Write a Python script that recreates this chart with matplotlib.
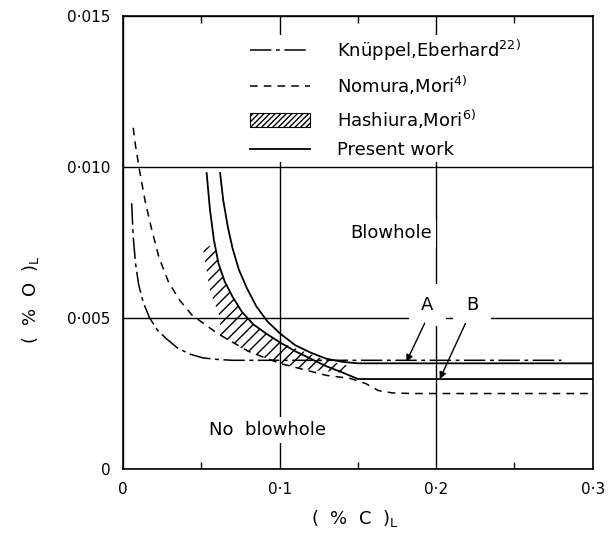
import matplotlib
matplotlib.use("Agg")
import matplotlib.pyplot as plt
from matplotlib.lines import Line2D
from matplotlib.patches import Patch
from matplotlib.ticker import FixedLocator, FixedFormatter

# ---------------- data ----------------
knuppel_x = [0.0055, 0.0065, 0.008, 0.010, 0.013, 0.017, 0.022, 0.028, 0.035, 0.043, 0.051, 0.060, 0.070, 0.100, 0.200, 0.280]
knuppel_y = [0.0088, 0.0077, 0.0068, 0.0061, 0.0055, 0.0050, 0.0046, 0.0043, 0.0040, 0.0038, 0.00368, 0.00363, 0.0036, 0.0036, 0.0036, 0.0036]

nomura_x = [0.0065, 0.008, 0.0105, 0.014, 0.018, 0.023, 0.029, 0.036, 0.044, 0.052, 0.060, 0.070, 0.080, 0.090, 0.100, 0.115, 0.130, 0.145, 0.155, 0.163, 0.172, 0.185, 0.300]
nomura_y = [0.0113, 0.0107, 0.0099, 0.0089, 0.0080, 0.0070, 0.0062, 0.0056, 0.0051, 0.0048, 0.0045, 0.0042, 0.0039, 0.0037, 0.0035, 0.0033, 0.0031, 0.0030, 0.00283, 0.0026, 0.00252, 0.0025, 0.0025]

hashiura_x = [0.0513, 0.0555, 0.0595, 0.061, 0.065, 0.070, 0.076, 0.083, 0.091, 0.100, 0.110, 0.120, 0.130, 0.1436,
              0.1436, 0.119, 0.100, 0.079, 0.062, 0.062, 0.0555]
hashiura_y = [0.00725, 0.0074, 0.0072, 0.0068, 0.0062, 0.0057, 0.0052, 0.0048, 0.0045, 0.0042, 0.0040, 0.0038, 0.0036, 0.00342,
              0.00318, 0.00328, 0.0035, 0.0039, 0.0044, 0.0050, 0.0059]

present_a_x = [0.062, 0.064, 0.067, 0.070, 0.074, 0.079, 0.085, 0.092, 0.100, 0.110, 0.120, 0.130, 0.140, 0.150, 0.300]
present_a_y = [0.0098, 0.0089, 0.0080, 0.0073, 0.0066, 0.0060, 0.0054, 0.0049, 0.0045, 0.0041, 0.00385, 0.00365, 0.00355, 0.0035, 0.0035]

present_b_x = [0.0534, 0.0555, 0.058, 0.061, 0.065, 0.070, 0.076, 0.083, 0.091, 0.100, 0.110, 0.120, 0.130, 0.140, 0.150, 0.300]
present_b_y = [0.0098, 0.0086, 0.0076, 0.0068, 0.0062, 0.0057, 0.0052, 0.0048, 0.0045, 0.0042, 0.0039, 0.00365, 0.0034, 0.0032, 0.00298, 0.00298]

x_ticks = [0.0, 0.1, 0.2, 0.3]
x_tick_labels = ["0", "0·1", "0·2", "0·3"]
y_ticks = [0.0, 0.005, 0.010, 0.015]
y_tick_labels = ["0", "0·005", "0·010", "0·015"]
x_minor = [0.05, 0.15, 0.25]

legend_labels = [r"Knüppel,Eberhard$^{22)}$", r"Nomura,Mori$^{4)}$",
                 r"Hashiura,Mori$^{6)}$", "Present work"]

# ---------------- figure ----------------
plt.rcParams['font.family'] = ['DejaVu Sans']
plt.rcParams['mathtext.fontset'] = 'dejavusans'

fig = plt.figure(figsize=(6.13, 5.45), dpi=100)
ax = fig.add_axes([0.2007, 0.1394, 0.7662, 0.8312])
ax.set_xlim(0, 0.3)
ax.set_ylim(0, 0.015)

for s in ax.spines.values():
    s.set_linewidth(1.2)

ax.xaxis.set_major_locator(FixedLocator(x_ticks))
ax.xaxis.set_major_formatter(FixedFormatter(x_tick_labels))
ax.yaxis.set_major_locator(FixedLocator(y_ticks))
ax.yaxis.set_major_formatter(FixedFormatter(y_tick_labels))
ax.xaxis.set_minor_locator(FixedLocator(x_minor))
ax.tick_params(which='major', length=0, labelsize=11, pad=9)
ax.tick_params(which='minor', axis='x', direction='in', length=5, width=1,
               top=True, bottom=True)

ax.set_axisbelow(True)
ax.grid(True, which='major', color='black', linewidth=1.0)

lw = 1.1
ax.plot(knuppel_x, knuppel_y, color='black', lw=lw, dashes=[14, 3, 2.5, 3], zorder=3)
ax.plot(nomura_x, nomura_y, color='black', lw=lw, dashes=[5, 4], zorder=3)
ax.fill(hashiura_x, hashiura_y, facecolor='none', edgecolor='black', hatch='///',
        linewidth=0, zorder=2)
ax.plot(present_a_x, present_a_y, color='black', lw=1.3, zorder=3)
ax.plot(present_b_x, present_b_y, color='black', lw=1.3, zorder=3)

# labels on the plot
bb = dict(facecolor='white', edgecolor='none', pad=3)
ax.text(0.171, 0.0078, "Blowhole", fontsize=13, ha='center', va='center', bbox=bb, zorder=4)
ax.text(0.0925, 0.00129, "No  blowhole", fontsize=13, ha='center', va='center', bbox=bb, zorder=4)
ax.text(0.1944, 0.00543, "A", fontsize=13, ha='center', va='center',
        bbox=dict(facecolor='white', edgecolor='none', pad=9), zorder=4)
ax.text(0.2229, 0.00543, "B", fontsize=13, ha='center', va='center',
        bbox=dict(facecolor='white', edgecolor='none', pad=9), zorder=4)
arrow = dict(arrowstyle='-|>', lw=1.0, color='black', mutation_scale=10, shrinkA=0, shrinkB=0)
ax.annotate("", xy=(0.181, 0.00355), xytext=(0.1927, 0.00483), arrowprops=arrow, zorder=5)
ax.annotate("", xy=(0.2023, 0.00298), xytext=(0.2187, 0.00482), arrowprops=arrow, zorder=5)

# axis labels
ax.set_xlabel(r"(  %  C  )$_{\mathrm{L}}$", fontsize=13)
ax.set_ylabel(r"(  %  O  )$_{\mathrm{L}}$", fontsize=13)
ax.xaxis.set_label_coords(0.494, -0.085)
ax.yaxis.set_label_coords(-0.175, 0.373)

# legend
handles = [
    Line2D([], [], color='black', lw=lw, dashes=[14, 3, 2.5, 3]),
    Line2D([], [], color='black', lw=lw, dashes=[5, 4]),
    Patch(facecolor='white', edgecolor='black', hatch='//////', linewidth=0.8),
    Line2D([], [], color='black', lw=1.3),
]
leg = ax.legend(handles, legend_labels, loc='upper left', bbox_to_anchor=(0.265, 0.959),
                fontsize=13, frameon=True, fancybox=False, framealpha=1,
                borderpad=0.15, borderaxespad=0, handlelength=3.3, handleheight=0.8,
                handletextpad=1.5, labelspacing=0.6)
leg.get_frame().set_facecolor('white')
leg.get_frame().set_edgecolor('none')
leg.set_zorder(6)

fig.savefig("out.png", dpi=100)
